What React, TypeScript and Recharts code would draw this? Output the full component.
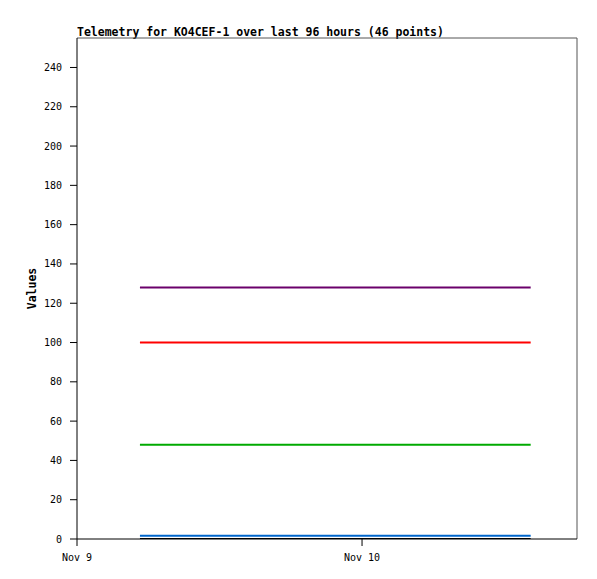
import {
  LineChart,
  Line,
  XAxis,
  YAxis,
  Label,
  ReferenceLine,
} from "recharts";

// hours since Nov 9 00:00
const hours = [
  5.3, 6.0, 6.8, 7.5, 8.2, 9.0, 9.7, 10.4, 11.2, 11.9, 12.6, 13.3, 14.1, 14.8,
  15.5, 16.3, 17.0, 17.7, 18.5, 19.2, 19.9, 20.7, 21.4, 22.1, 22.8, 23.6, 24.3,
  25.0, 25.8, 26.5, 27.2, 28.0, 28.7, 29.4, 30.2, 30.9, 31.6, 32.3, 33.1, 33.8,
  34.5, 35.3, 36.0, 36.7, 37.5, 38.2,
];

const ch1 = [
  128, 128, 128, 128, 128, 128, 128, 128, 128, 128, 128, 128, 128, 128, 128,
  128, 128, 128, 128, 128, 128, 128, 128, 128, 128, 128, 128, 128, 128, 128,
  128, 128, 128, 128, 128, 128, 128, 128, 128, 128, 128, 128, 128, 128, 128, 128,
];
const ch2 = [
  100, 100, 100, 100, 100, 100, 100, 100, 100, 100, 100, 100, 100, 100, 100,
  100, 100, 100, 100, 100, 100, 100, 100, 100, 100, 100, 100, 100, 100, 100,
  100, 100, 100, 100, 100, 100, 100, 100, 100, 100, 100, 100, 100, 100, 100, 100,
];
const ch3 = [
  48, 48, 48, 48, 48, 48, 48, 48, 48, 48, 48, 48, 48, 48, 48, 48, 48, 48, 48,
  48, 48, 48, 48, 48, 48, 48, 48, 48, 48, 48, 48, 48, 48, 48, 48, 48, 48, 48,
  48, 48, 48, 48, 48, 48, 48, 48,
];
const ch4 = [
  1.7, 1.7, 1.7, 1.7, 1.7, 1.7, 1.7, 1.7, 1.7, 1.7, 1.7, 1.7, 1.7, 1.7, 1.7,
  1.7, 1.7, 1.7, 1.7, 1.7, 1.7, 1.7, 1.7, 1.7, 1.7, 1.7, 1.7, 1.7, 1.7, 1.7,
  1.7, 1.7, 1.7, 1.7, 1.7, 1.7, 1.7, 1.7, 1.7, 1.7, 1.7, 1.7, 1.7, 1.7, 1.7, 1.7,
];
const ch5 = [
  0, 0, 0, 0, 0, 0, 0, 0, 0, 0, 0, 0, 0, 0, 0, 0, 0, 0, 0, 0, 0, 0, 0, 0, 0, 0,
  0, 0, 0, 0, 0, 0, 0, 0, 0, 0, 0, 0, 0, 0, 0, 0, 0, 0, 0, 0,
];

const xTicks = [0, 24];
const xTickLabels = ["Nov 9", "Nov 10"];
const yTicks = [0, 20, 40, 60, 80, 100, 120, 140, 160, 180, 200, 220, 240];

const data = hours.map((t, i) => ({
  t,
  a: ch1[i],
  b: ch2[i],
  c: ch3[i],
  d: ch4[i],
  e: ch5[i],
}));

const FONT = "'DejaVu Sans Mono', 'Liberation Mono', monospace";
const X_MAX = 42.1;
const Y_MAX = 255;

export default function App() {
  return (
    <div
      style={{
        position: "absolute",
        left: 0,
        top: 0,
        width: 597,
        height: 579,
        background: "#fff",
      }}
    >
      <div
        style={{
          position: "absolute",
          left: 77,
          top: 25,
          fontFamily: FONT,
          fontSize: 11.5,
          fontWeight: "bold",
          color: "#000",
          whiteSpace: "nowrap",
        }}
      >
        Telemetry for KO4CEF-1 over last 96 hours (46 points)
      </div>
      <LineChart
        width={597}
        height={579}
        data={data}
        margin={{ top: 38, right: 20, bottom: 0, left: 0 }}
      >
        <XAxis
          dataKey="t"
          type="number"
          domain={[0, X_MAX]}
          allowDataOverflow
          ticks={xTicks}
          tickFormatter={(v) => xTickLabels[xTicks.indexOf(v)]}
          height={40}
          tickSize={7}
          tickMargin={8}
          stroke="#000"
          tick={{ fill: "#000", fontFamily: FONT, fontSize: 10 }}
        />
        <YAxis
          domain={[0, Y_MAX]}
          ticks={yTicks}
          allowDataOverflow
          width={77}
          tickSize={7}
          tickMargin={8}
          stroke="#000"
          tick={{ fill: "#000", fontFamily: FONT, fontSize: 10 }}
        >
          <Label
            value="Values"
            angle={-90}
            position="insideLeft"
            offset={32}
            style={{
              fontFamily: FONT,
              fontSize: 11.5,
              fontWeight: "bold",
              fill: "#000",
              textAnchor: "middle",
            }}
          />
        </YAxis>
        <ReferenceLine y={Y_MAX} stroke="#555" strokeWidth={1} />
        <ReferenceLine x={X_MAX} stroke="#555" strokeWidth={1} />
        <Line
          dataKey="a"
          stroke="#6b006b"
          strokeWidth={2}
          dot={false}
          isAnimationActive={false}
        />
        <Line
          dataKey="b"
          stroke="#ff0000"
          strokeWidth={2}
          dot={false}
          isAnimationActive={false}
        />
        <Line
          dataKey="c"
          stroke="#00aa00"
          strokeWidth={2}
          dot={false}
          isAnimationActive={false}
        />
        <Line
          dataKey="d"
          stroke="#0066cc"
          strokeWidth={2}
          dot={false}
          isAnimationActive={false}
        />
        <Line
          dataKey="e"
          stroke="#000000"
          strokeWidth={2}
          dot={false}
          isAnimationActive={false}
        />
      </LineChart>
    </div>
  );
}
